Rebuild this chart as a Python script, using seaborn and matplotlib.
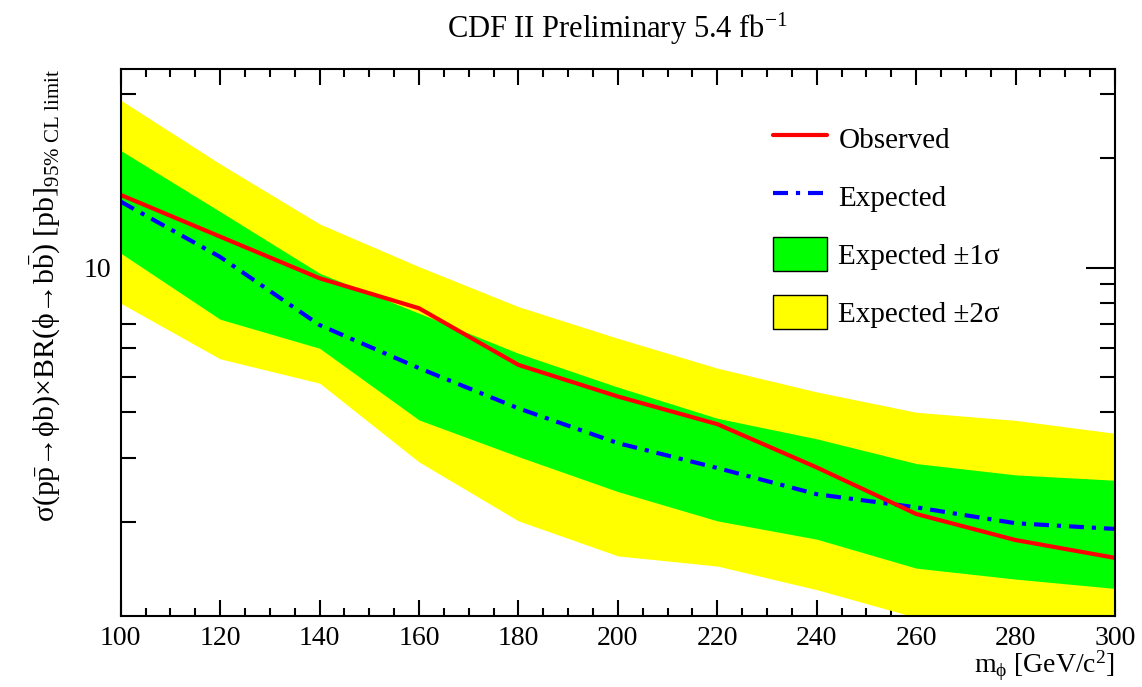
import matplotlib
matplotlib.use("Agg")
import matplotlib.pyplot as plt
import matplotlib.ticker as mticker
from matplotlib.lines import Line2D
from matplotlib.patches import Patch
import seaborn as sns
import pandas as pd

# Values (log scale, pb)
mass = [100, 120, 140, 160, 180, 200, 220, 240, 260, 280, 300]
observed = [15.85, 12.17, 9.35, 7.73, 5.40, 4.42, 3.71, 2.82, 2.10, 1.78, 1.59]
expected = [15.19, 10.70, 6.95, 5.29, 4.10, 3.29, 2.81, 2.38, 2.19, 1.98, 1.91]
exp_1s_lo = [10.96, 7.21, 6.00, 3.81, 3.02, 2.42, 2.01, 1.79, 1.49, 1.39, 1.31]
exp_1s_hi = [21.0, 14.26, 9.65, 7.49, 5.81, 4.69, 3.85, 3.38, 2.89, 2.69, 2.60]
exp_2s_lo = [7.98, 5.61, 4.81, 2.92, 2.01, 1.61, 1.51, 1.30, 1.09, 1.05, 1.00]
exp_2s_hi = [28.9, 19.29, 13.19, 10.06, 7.81, 6.39, 5.29, 4.55, 4.00, 3.80, 3.50]

df = pd.DataFrame({
    "mass": mass, "observed": observed, "expected": expected,
    "lo1": exp_1s_lo, "hi1": exp_1s_hi, "lo2": exp_2s_lo, "hi2": exp_2s_hi,
})

sns.set_theme(style="ticks")
plt.rcParams["font.family"] = ["Liberation Serif", "DejaVu Serif"]
plt.rcParams["mathtext.fontset"] = "custom"
plt.rcParams["mathtext.rm"] = "Liberation Serif"
plt.rcParams["mathtext.it"] = "Liberation Serif"
plt.rcParams["mathtext.bf"] = "Liberation Serif:bold"
plt.rcParams["mathtext.fallback"] = "stix"
for k in ("text.color", "axes.labelcolor", "xtick.color", "ytick.color"):
    plt.rcParams[k] = "black"

YELLOW = "#ffff00"
GREEN = "#00ff00"
DASHDOT = (0, (3.6, 1.9, 1.0, 1.9))

fig = plt.figure(figsize=(11.42, 6.87), dpi=100)
ax = fig.add_axes([0.1057, 0.1033, 0.8707, 0.7963])

# bands
ax.fill_between(df["mass"], df["lo2"], df["hi2"], color=YELLOW, lw=0)
ax.fill_between(df["mass"], df["lo1"], df["hi1"], color=GREEN, lw=0)

# limit curves
sns.lineplot(data=df, x="mass", y="expected", ax=ax, color="blue", lw=3,
             linestyle=DASHDOT)
sns.lineplot(data=df, x="mass", y="observed", ax=ax, color="red", lw=3)

ax.set_yscale("log")
ax.set_xlim(100, 300)
ax.set_ylim(1.1, 35.2)

ax.xaxis.set_major_locator(mticker.MultipleLocator(20))
ax.xaxis.set_minor_locator(mticker.MultipleLocator(5))
ax.yaxis.set_major_locator(mticker.LogLocator(base=10))
ax.yaxis.set_minor_locator(mticker.LogLocator(base=10, subs=range(2, 10)))
ax.yaxis.set_major_formatter(mticker.FuncFormatter(lambda v, p: f"{v:g}"))
ax.yaxis.set_minor_formatter(mticker.NullFormatter())

ax.tick_params(which="both", direction="in", top=True, right=True,
               width=1.5, colors="black", labelsize=20)
ax.tick_params(axis="x", which="major", length=11.5, pad=7)
ax.tick_params(axis="x", which="minor", length=5.5)
ax.tick_params(axis="y", which="major", length=21, pad=7)
ax.tick_params(axis="y", which="minor", length=10.5)
for s in ax.spines.values():
    s.set_linewidth(1.5)
    s.set_color("black")

ax.set_title(r"CDF II Preliminary 5.4 fb$^{-1}$", fontsize=22, pad=22)
ax.set_xlabel(r"m$_{\phi}$ [GeV/c$^{2}$]", fontsize=20, loc="right")
ax.xaxis.set_label_coords(1.0, -0.06)
ax.set_ylabel(r"σ(p$\bar{\mathrm{p}}$→ϕb)×BR(ϕ→b$\bar{\mathrm{b}}$) [pb]"
              r"$_{\mathrm{95\%\ CL\ limit}}$", fontsize=21.5, loc="top")
ax.yaxis.set_label_coords(-0.058, 1.0)

handles = [
    Line2D([], [], color="red", lw=3),
    Line2D([], [], color="blue", lw=3, linestyle=DASHDOT),
    Patch(facecolor=GREEN, edgecolor="black", lw=1),
    Patch(facecolor=YELLOW, edgecolor="black", lw=1),
]
labels = ["Observed", "Expected", "Expected ±1σ", "Expected ±2σ"]
ax.legend(handles, labels, loc="upper left", bbox_to_anchor=(0.656, 0.904),
          frameon=False, fontsize=21, handlelength=1.86, handleheight=1.4,
          labelspacing=0.83, handletextpad=0.38, borderpad=0, borderaxespad=0)

fig.savefig("out.png", dpi=100)
